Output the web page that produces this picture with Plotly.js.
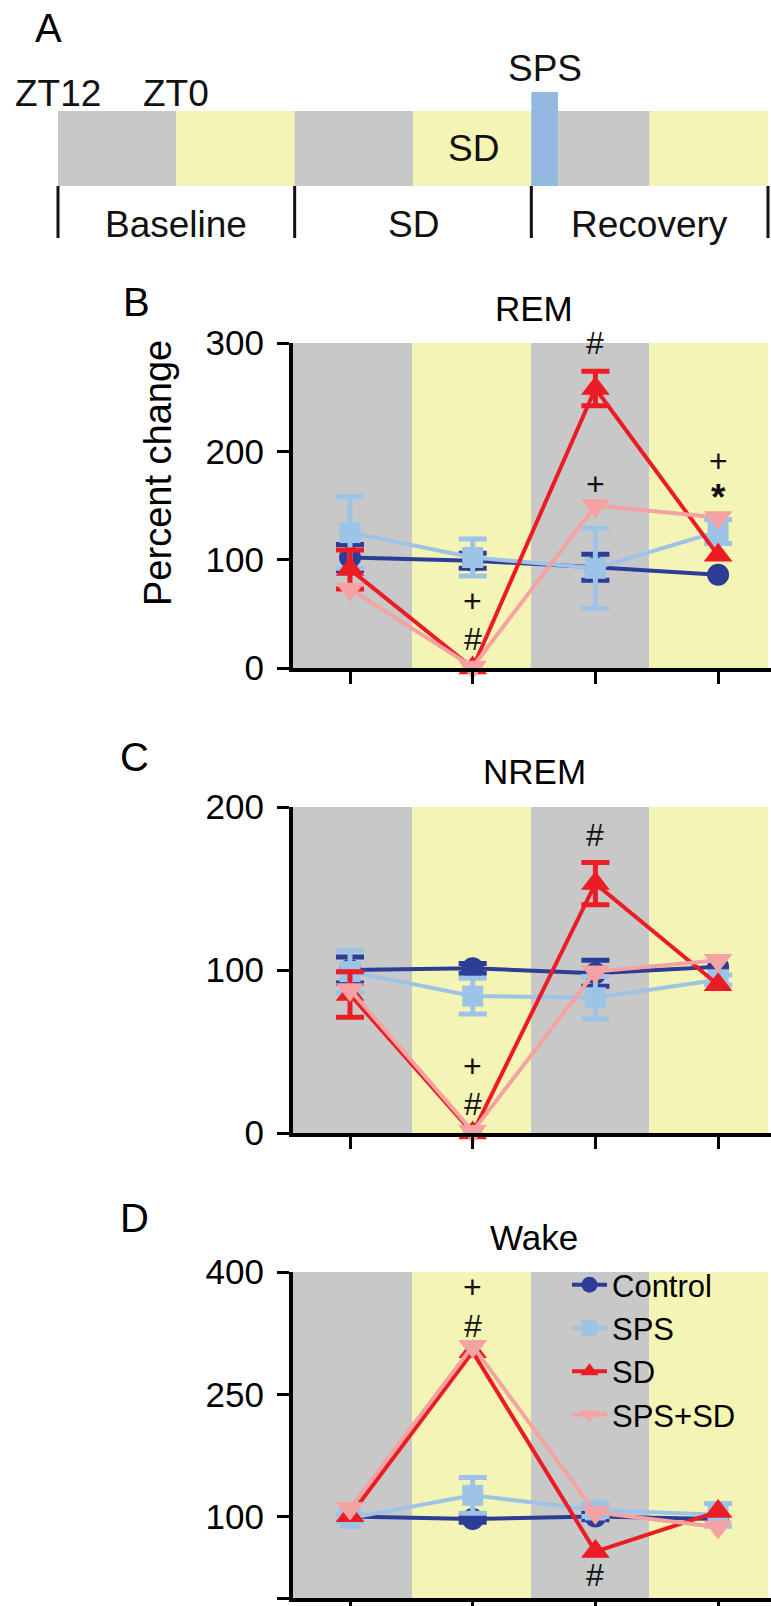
<!DOCTYPE html>
<html><head><meta charset="utf-8">
<script src="https://cdn.plot.ly/plotly-3.0.1.min.js"></script>
<style>html,body{margin:0;padding:0;background:#fff}</style>
</head><body><div id="chart" style="width:771px;height:1606px"></div>
<script>
// ---------------- DATA ----------------
const periods = ['SD dark', 'SD light', 'Recovery dark', 'Recovery light'];
const groups = ['Control', 'SPS', 'SD', 'SPS+SD'];

// REM (% change)
const remControl = [102, 99, 93, 86];
const remControlErr = [12, 7, 12, null];
const remSPS = [125, 102, 92, 126];
const remSPSErr = [33, 17, 37, 11];
const remSD = [91, 0, 258, 104];
const remSDErr = [18, null, 16, null];
const remSPSSD = [73, 1, 150, 139];
const remSPSSDErr = [null, null, null, null];

// NREM (% change)
const nremControl = [100, 101, 98, 102];
const nremControlErr = [8, 3, 8, null];
const nremSPS = [99, 84, 83, 94];
const nremSPSErr = [13, 11, 13, 3];
const nremSD = [85, 0, 153, 91];
const nremSDErr = [14, null, 13, null];
const nremSPSSD = [88, 1, 99, 106];
const nremSPSSDErr = [null, null, null, null];

// Wake (% change)
const wakeControl = [100, 97, 100, 97];
const wakeControlErr = [null, 4, 4, null];
const wakeSPS = [98, 126, 108, 102];
const wakeSPSErr = [4, 22, 8, 14];
const wakeSD = [101, 302, 57, 106];
const wakeSDErr = [null, null, null, null];
const wakeSPSSD = [110, 309, 105, 87];
const wakeSPSSDErr = [null, null, null, null];

// significance marks: [period index, text, y value]
const remMarks = [[1, '+', 57], [1, '#', 31], [2, '#', 295], [2, '+', 174], [3, '+', 191], [3, '*', 166]];
const nremMarks = [[2, '#', 183], [1, '+', 38], [1, '#', 21]];
const wakeMarks = [[1, '+', 376], [1, '#', 340], [2, '#', 28]];

// y ticks
const remTicks = [0, 100, 200, 300];
const nremTicks = [0, 100, 200];
const wakeTicks = [0, 100, 250, 400];

// Panel A timeline (hours from ZT12 of baseline day)
const timelineEdges = [0, 12, 24, 36, 48, 60, 72];
const timelinePhase = ['dark', 'light', 'dark', 'light', 'dark', 'light'];
const spsWindow = [48, 50.7];
const sectionEdges = [0, 24, 48, 72];
const sectionLabels = ['Baseline', 'SD', 'Recovery'];
const ztLabels = ['ZT12', 'ZT0'];
const ztHours = [0, 12];

// ---------------- STYLE ----------------
const W = 771, H = 1606;
const FONT = 'Liberation Sans, Arial, Helvetica, sans-serif';
const colors = ['#2b3d97', '#9dc3e6', '#ec1c24', '#f4a2a2'];
const symbols = ['circle', 'square', 'triangle-up', 'triangle-down'];
const msize = [22, 21, 25, 25];
const GRAY = '#c8c8c8', YELLOW = '#f4f4b5', SPSBLUE = '#93b9e1';

const px = x => x / W;
const py = y => 1 - y / H;

const panels = [
  { xa: 'x', ya: 'y', data: [remControl, remSPS, remSD, remSPSSD], err: [remControlErr, remSPSErr, remSDErr, remSPSSDErr], top: 343, bot: 668, range: [0, 300], ticks: remTicks, marks: remMarks },
  { xa: 'x2', ya: 'y2', data: [nremControl, nremSPS, nremSD, nremSPSSD], err: [nremControlErr, nremSPSErr, nremSDErr, nremSPSSDErr], top: 807, bot: 1133, range: [0, 200], ticks: nremTicks, marks: nremMarks },
  { xa: 'x3', ya: 'y3', data: [wakeControl, wakeSPS, wakeSD, wakeSPSSD], err: [wakeControlErr, wakeSPSErr, wakeSDErr, wakeSPSSDErr], top: 1272, bot: 1598, range: [0, 400], ticks: wakeTicks, marks: wakeMarks }
];

const traces = [];
const shapes = [];
const annotations = [];
const layout = {
  width: W, height: H, autosize: false,
  margin: { l: 0, r: 0, t: 0, b: 0, pad: 0 },
  paper_bgcolor: '#fff', plot_bgcolor: 'rgba(0,0,0,0)',
  font: { family: FONT, color: '#000', size: 32 },
  showlegend: true,
  legend: {
    x: px(567), y: py(1258), xanchor: 'left', yanchor: 'top',
    bgcolor: 'rgba(0,0,0,0)', borderwidth: 0,
    font: { family: FONT, size: 31, color: '#000' },
    itemwidth: 35, tracegroupgap: 0
  },
  shapes: shapes, annotations: annotations
};

const xLeft = 293;
const tickSpacing = 122.7;   // px between period ticks
const firstTick = 350;
const xRange = [-(firstTick - xLeft) / tickSpacing, (W - firstTick) / tickSpacing];
const bandFrac = [0, 0.249, 0.498, 0.745, 0.9937];

panels.forEach((p, pi) => {
  const sfx = pi === 0 ? '' : String(pi + 1);
  layout['xaxis' + sfx] = {
    domain: [px(xLeft), 1], anchor: p.ya, range: xRange, type: 'category',
    showline: true, linewidth: 4, linecolor: '#000',
    ticks: 'outside', ticklen: 12, tickwidth: 3, tickcolor: '#000',
    showticklabels: false, showgrid: false, zeroline: false, fixedrange: true
  };
  layout['yaxis' + sfx] = {
    domain: [py(p.bot), py(p.top)], anchor: p.xa, range: p.range,
    tickmode: 'array', tickvals: p.ticks, ticktext: p.ticks.map(String),
    showline: true, linewidth: 4, linecolor: '#000',
    ticks: 'outside', ticklen: 12, tickwidth: 3, tickcolor: '#000',
    ticklabelstandoff: 6,
    tickfont: { family: FONT, size: 35, color: '#000' },
    showgrid: false, zeroline: false, fixedrange: true
  };
  // day/night bands
  for (let i = 0; i < 4; i++) {
    shapes.push({
      type: 'rect', layer: 'below', xref: p.xa + ' domain', yref: p.ya + ' domain',
      x0: bandFrac[i], x1: bandFrac[i + 1], y0: 0, y1: 1,
      fillcolor: i % 2 === 0 ? GRAY : YELLOW, line: { width: 0 }
    });
  }
  // series
  groups.forEach((g, gi) => {
    const e = p.err[gi];
    const hasErr = e.some(v => v !== null);
    traces.push({
      type: 'scatter', mode: 'lines+markers', name: g,
      x: periods, y: p.data[gi], xaxis: p.xa, yaxis: p.ya,
      legendgroup: g, showlegend: pi === 2,
      cliponaxis: false,
      line: { color: colors[gi], width: 4 },
      marker: { color: colors[gi], symbol: symbols[gi], size: msize[gi], line: { width: 0 } },
      error_y: hasErr ? { type: 'data', array: e.map(v => v === null ? NaN : v), visible: true, color: colors[gi], thickness: 5, width: 14 } : { visible: false },
      hoverinfo: 'skip'
    });
  });
  // significance marks (stacked marks nudged apart a little)
  p.marks.forEach(([xi, t, yv]) => {
    const stacked = p.marks.filter(m => m[0] === xi && m[1] !== '*').length > 1 && t !== '*';
    let shift = 0;
    if (stacked) {
      const others = p.marks.filter(m => m[0] === xi && m[1] !== '*' && m[2] !== yv);
      shift = others.length && others[0][2] < yv ? 5 : -5;
    }
    if (t === '*') shift = -9;
    annotations.push({
      xref: p.xa, yref: p.ya, x: periods[xi], y: yv, text: t, showarrow: false,
      xanchor: 'center', yanchor: 'middle', yshift: shift,
      font: { family: FONT, size: t === '*' ? 37 : 32, color: '#111', weight: t === '*' ? 'bold' : 'normal' }
    });
  });
});

// panel titles and letters
[['REM', 308], ['NREM', 772], ['Wake', 1237]].forEach(([t, y]) => {
  annotations.push({ xref: 'paper', yref: 'paper', x: px(534), y: py(y), text: t, showarrow: false,
    xanchor: 'center', yanchor: 'middle', font: { family: FONT, size: 35, color: '#000' } });
});
[['A', 48, 28], ['B', 136, 302], ['C', 134, 757], ['D', 134, 1218]].forEach(([t, x, y]) => {
  annotations.push({ xref: 'paper', yref: 'paper', x: px(x), y: py(y), text: t, showarrow: false,
    xanchor: 'center', yanchor: 'middle', font: { family: FONT, size: 40, color: '#000' } });
});
annotations.push({ xref: 'paper', yref: 'paper', x: px(158), y: py(473), text: 'Percent change', textangle: -90,
  showarrow: false, xanchor: 'center', yanchor: 'middle', font: { family: FONT, size: 38, color: '#000' } });

// ---------------- PANEL A (timeline) ----------------
const pxPerHour = (768 - 58) / 72;
layout.xaxis4 = { domain: [0, 1], anchor: 'y4', range: [-58 / pxPerHour, (W - 58) / pxPerHour], visible: false, fixedrange: true };
layout.yaxis4 = { domain: [py(260), 1], anchor: 'x4', range: [260, 0], visible: false, fixedrange: true };
timelinePhase.forEach((ph, i) => {
  shapes.push({ type: 'rect', xref: 'x4', yref: 'y4', x0: timelineEdges[i], x1: timelineEdges[i + 1], y0: 111, y1: 186,
    fillcolor: ph === 'dark' ? GRAY : YELLOW, line: { width: 0 }, layer: 'below' });
});
shapes.push({ type: 'rect', xref: 'x4', yref: 'y4', x0: spsWindow[0], x1: spsWindow[1], y0: 92, y1: 186,
  fillcolor: SPSBLUE, line: { width: 0 }, layer: 'below' });
sectionEdges.forEach(h => {
  shapes.push({ type: 'line', xref: 'x4', yref: 'y4', x0: h, x1: h, y0: 186, y1: 238, line: { color: '#111', width: 3 } });
});
sectionLabels.forEach((lab, i) => {
  annotations.push({ xref: 'x4', yref: 'y4', x: (sectionEdges[i] + sectionEdges[i + 1]) / 2, y: 224, text: lab,
    showarrow: false, xanchor: 'center', yanchor: 'middle', font: { family: FONT, size: 37, color: '#111' } });
});
ztLabels.forEach((lab, i) => {
  annotations.push({ xref: 'x4', yref: 'y4', x: ztHours[i], y: 93, text: lab,
    showarrow: false, xanchor: 'center', yanchor: 'middle', font: { family: FONT, size: 37, color: '#111' } });
});
annotations.push({ xref: 'x4', yref: 'y4', x: (spsWindow[0] + spsWindow[1]) / 2, y: 68, text: 'SPS',
  showarrow: false, xanchor: 'center', yanchor: 'middle', font: { family: FONT, size: 37, color: '#111' } });
annotations.push({ xref: 'x4', yref: 'y4', x: 42.1, y: 148, text: 'SD',
  showarrow: false, xanchor: 'center', yanchor: 'middle', font: { family: FONT, size: 37, color: '#111' } });

Plotly.newPlot('chart', traces, layout, { displayModeBar: false, staticPlot: true });
</script>
</body></html>
